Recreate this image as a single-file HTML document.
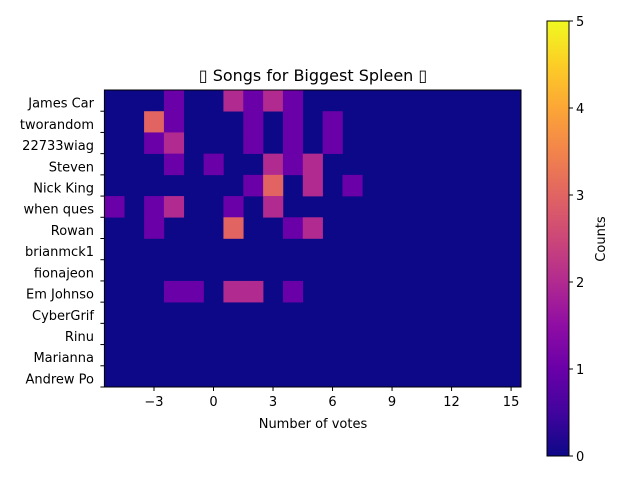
<!DOCTYPE html>
<html><head><meta charset="utf-8"><style>
body{margin:0;background:#fff}
svg text{font-family:"DejaVu Sans","Liberation Sans",sans-serif;fill:#000}
</style></head><body>
<svg id="c" width="640" height="480" xmlns="http://www.w3.org/2000/svg">
<defs><linearGradient id="pl" x1="0" y1="1" x2="0" y2="0">
<stop offset="0" stop-color="#0d0887"/><stop offset="0.1" stop-color="#41049d"/><stop offset="0.2" stop-color="#6a00a8"/><stop offset="0.3" stop-color="#8f0da4"/><stop offset="0.4" stop-color="#b12a90"/><stop offset="0.5" stop-color="#cc4778"/><stop offset="0.6" stop-color="#e16462"/><stop offset="0.7" stop-color="#f2844b"/><stop offset="0.8" stop-color="#fca636"/><stop offset="0.9" stop-color="#fcce25"/><stop offset="1" stop-color="#f0f921"/>
</linearGradient></defs>
</svg>
<script>
const names=["James Car","tworandom","22733wiag","Steven","Nick King","when ques","Rowan","brianmck1","fionajeon","Em Johnso","CyberGrif","Rinu","Marianna ","Andrew Po"];
const xTicks=[-3,0,3,6,9,12,15];
const cbTicks=[0,1,2,3,4,5];
// nonzero cells: [row, vote, count]
const cells=[
[0,-2,1],[0,1,2],[0,2,1],[0,3,2],[0,4,1],
[1,-3,3],[1,-2,1],[1,2,1],[1,4,1],[1,6,1],
[2,-3,1],[2,-2,2],[2,2,1],[2,4,1],[2,6,1],
[3,-2,1],[3,0,1],[3,3,2],[3,4,1],[3,5,2],
[4,2,1],[4,3,3],[4,5,2],[4,7,1],
[5,-5,1],[5,-3,1],[5,-2,2],[5,1,1],[5,3,2],
[6,-3,1],[6,1,3],[6,4,1],[6,5,2],
[9,-2,1],[9,-1,1],[9,1,2],[9,2,2],[9,4,1]
];
const xMin=-5.5,xMax=15.5,L=104.4,R=521,T=90,B=387;
const cmap=["#0d0887","#6a00a8","#b12a90","#e16462","#fca636","#f0f921"];
const sx=v=>L+(v-xMin)/(xMax-xMin)*(R-L);
const rh=(B-T)/names.length;
const sy=i=>T+i*rh;
const svg=document.getElementById('c');
const NS="http://www.w3.org/2000/svg";
function mk(t,a,p){const e=document.createElementNS(NS,t);for(const k in a)e.setAttribute(k,a[k]);(p||svg).appendChild(e);return e;}
const bg=mk('rect',{x:L,y:T,width:R-L,height:B-T,fill:cmap[0]});


cells.forEach(c=>{
 const r=mk('rect',{x:sx(c[1]-0.5),y:sy(c[0]),width:sx(c[1]+0.5)-sx(c[1]-0.5)+0.3,height:rh+0.3,fill:cmap[c[2]]});
 
 
});
mk('rect',{x:L,y:T,width:R-L,height:B-T,fill:'none',stroke:'#000','stroke-width':1});
names.forEach((n,i)=>{
 const yb=sy(i+1);
 mk('line',{x1:L-4,x2:L,y1:yb,y2:yb,stroke:'#000'});
 const t=mk('text',{x:94,y:sy(i)+rh/2+7,'text-anchor':'end','font-size':'13px','xml:space':'preserve'});
 t.textContent=n;
 
 
});
xTicks.forEach(v=>{
 mk('line',{x1:sx(v),x2:sx(v),y1:B,y2:B+4,stroke:'#000'});
 const t=mk('text',{x:sx(v),y:B+19,'text-anchor':'middle','font-size':'13px'});
 t.textContent=v<0?'\u2212'+(-v):String(v);
 
 
});
const xt=mk('text',{x:313,y:428,'text-anchor':'middle','font-size':'13px'});xt.textContent='Number of votes';


const tt=mk('text',{x:313,y:81,'text-anchor':'middle','font-size':'16px'});tt.textContent='\u25AF Songs for Biggest Spleen \u25AF';


const cT=21,cB=456,cL=547,cR=569;
const cb=mk('rect',{x:cL,y:cT,width:cR-cL,height:cB-cT,fill:'url(#pl)',stroke:'#000','stroke-width':1});


cbTicks.forEach(v=>{
 const y=cB-(v/5)*(cB-cT);
 mk('line',{x1:cR,x2:cR+4,y1:y,y2:y,stroke:'#000'});
 const t=mk('text',{x:cR+7,y:y+5,'font-size':'13px'});t.textContent=String(v);
 
 
});
const ct=mk('text',{x:0,y:0,'text-anchor':'middle','font-size':'13px',transform:'translate(605,239) rotate(-90)'});ct.textContent='Counts';


</script>
</body></html>
